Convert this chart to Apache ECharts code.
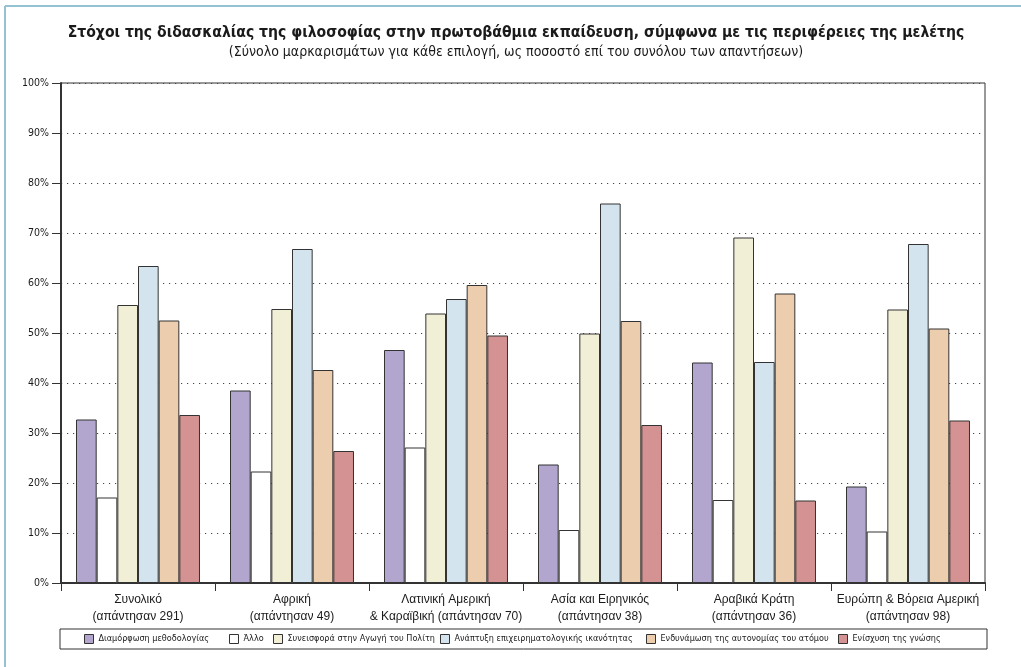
<!DOCTYPE html>
<html>
<head>
<meta charset="utf-8">
<script src="https://cdn.jsdelivr.net/npm/echarts@6/dist/echarts.min.js"></script>
<style>
  html, body { margin: 0; padding: 0; background: #ffffff; }
  #chart { width: 1021px; height: 667px; }
</style>
</head>
<body>
<div id="chart"></div>
<script>
// Regions of the study (x-axis categories)
const regions = [
  'Συνολικό\n(απάντησαν 291)',
  'Αφρική\n(απάντησαν 49)',
  'Λατινική Αμερική\n& Καραϊβική (απάντησαν 70)',
  'Ασία και Ειρηνικός\n(απάντησαν 38)',
  'Αραβικά Κράτη\n(απάντησαν 36)',
  'Ευρώπη & Βόρεια Αμερική\n(απάντησαν 98)'
];

// Goal names (one series each)
const goals = [
  'Διαμόρφωση μεθοδολογίας',
  'Άλλο',
  'Συνεισφορά στην Αγωγή του Πολίτη',
  'Ανάπτυξη επιχειρηματολογικής ικανότητας',
  'Ενδυνάμωση της αυτονομίας του ατόμου',
  'Ενίσχυση της γνώσης'
];

// Percentage of responses per goal, per region
const methodology  = [32.7, 38.5, 46.6, 23.7, 44.1, 19.3];
const other        = [17.1, 22.3, 27.1, 10.6, 16.6, 10.3];
const citizenship  = [55.6, 54.8, 53.9, 49.9, 69.1, 54.7];
const argumentation = [63.4, 66.8, 56.8, 75.9, 44.2, 67.8];
const autonomy     = [52.5, 42.6, 59.6, 52.4, 57.9, 50.9];
const knowledge    = [33.6, 26.4, 49.5, 31.6, 16.5, 32.5];

// Y-axis tick values
const yTicks = [0, 10, 20, 30, 40, 50, 60, 70, 80, 90, 100];

const seriesValues = [methodology, other, citizenship, argumentation, autonomy, knowledge];
const colors = ['#b3a6ce', '#ffffff', '#f2efd7', '#d4e4ee', '#eccdae', '#d49292'];

// left edge of each legend entry inside the legend frame
const legendLefts = [84, 229, 273, 440, 646, 838];

const narrow = '"DejaVu Sans Condensed", "Liberation Sans Narrow", sans-serif';

const chart = echarts.init(document.getElementById('chart'), null, { renderer: 'canvas' });

const option = {
  backgroundColor: '#ffffff',
  animation: false,
  color: colors,
  graphic: [
    // light blue frame along the top and left edges
    { type: 'line', shape: { x1: 5, y1: 6, x2: 1021, y2: 6 }, style: { stroke: '#95c2d2', lineWidth: 2 }, silent: true },
    { type: 'line', shape: { x1: 5, y1: 6, x2: 5, y2: 667 }, style: { stroke: '#95c2d2', lineWidth: 2 }, silent: true },
    {
      type: 'text', x: 516, y: 33,
      style: {
        text: 'Στόχοι της διδασκαλίας της φιλοσοφίας στην πρωτοβάθμια εκπαίδευση, σύμφωνα με τις περιφέρειες της μελέτης',
        font: 'bold 15.6px ' + narrow,
        fill: '#1a1a1a', textAlign: 'center', textVerticalAlign: 'middle'
      }
    },
    {
      type: 'text', x: 516, y: 52,
      style: {
        text: '(Σύνολο μαρκαρισμάτων για κάθε επιλογή, ως ποσοστό επί του συνόλου των απαντήσεων)',
        font: '14px ' + narrow,
        fill: '#1a1a1a', textAlign: 'center', textVerticalAlign: 'middle'
      }
    },
    // legend frame
    { type: 'rect', shape: { x: 60, y: 629, width: 927, height: 20 }, style: { fill: 'none', stroke: '#333333', lineWidth: 1 }, silent: true, z: -1 }
  ],
  legend: goals.map((name, i) => ({
    left: legendLefts[i],
    top: 634,
    padding: 0,
    itemWidth: 9,
    itemHeight: 9,
    itemGap: 0,
    icon: 'rect',
    data: [name],
    itemStyle: { borderColor: '#333333', borderWidth: 1 },
    textStyle: {
      fontFamily: narrow,
      fontSize: 9,
      color: '#1a1a1a'
    }
  })),
  grid: {
    left: 61, right: 36, top: 83, bottom: 84,
    show: true, borderColor: '#333333', borderWidth: 1,
    containLabel: false
  },
  xAxis: {
    type: 'category',
    data: regions,
    axisLine: { lineStyle: { color: '#333333', width: 2 } },
    axisTick: { show: true, length: 8, lineStyle: { color: '#333333', width: 1 } },
    axisLabel: {
      color: '#1a1a1a',
      fontFamily: '"Liberation Sans", Arial, sans-serif',
      fontSize: 12,
      lineHeight: 17,
      margin: 8,
      interval: 0
    }
  },
  yAxis: {
    type: 'value',
    min: yTicks[0],
    max: yTicks[yTicks.length - 1],
    interval: yTicks[1] - yTicks[0],
    axisLine: { show: true, lineStyle: { color: '#333333', width: 2 } },
    axisTick: { show: true, length: 9, lineStyle: { color: '#333333' } },
    axisLabel: {
      formatter: '{value}%',
      color: '#1a1a1a',
      fontFamily: narrow,
      fontSize: 10.5,
      margin: 12
    },
    splitLine: { show: true, lineStyle: { color: '#444444', width: 1, type: [1.2, 4.8] } }
  },
  series: goals.map((name, i) => ({
    name,
    type: 'bar',
    data: seriesValues[i],
    barGap: '0%',
    barCategoryGap: '19.5%',
    itemStyle: { color: colors[i], borderColor: '#333333', borderWidth: 1 }
  }))
};

chart.setOption(option);
</script>
</body>
</html>
